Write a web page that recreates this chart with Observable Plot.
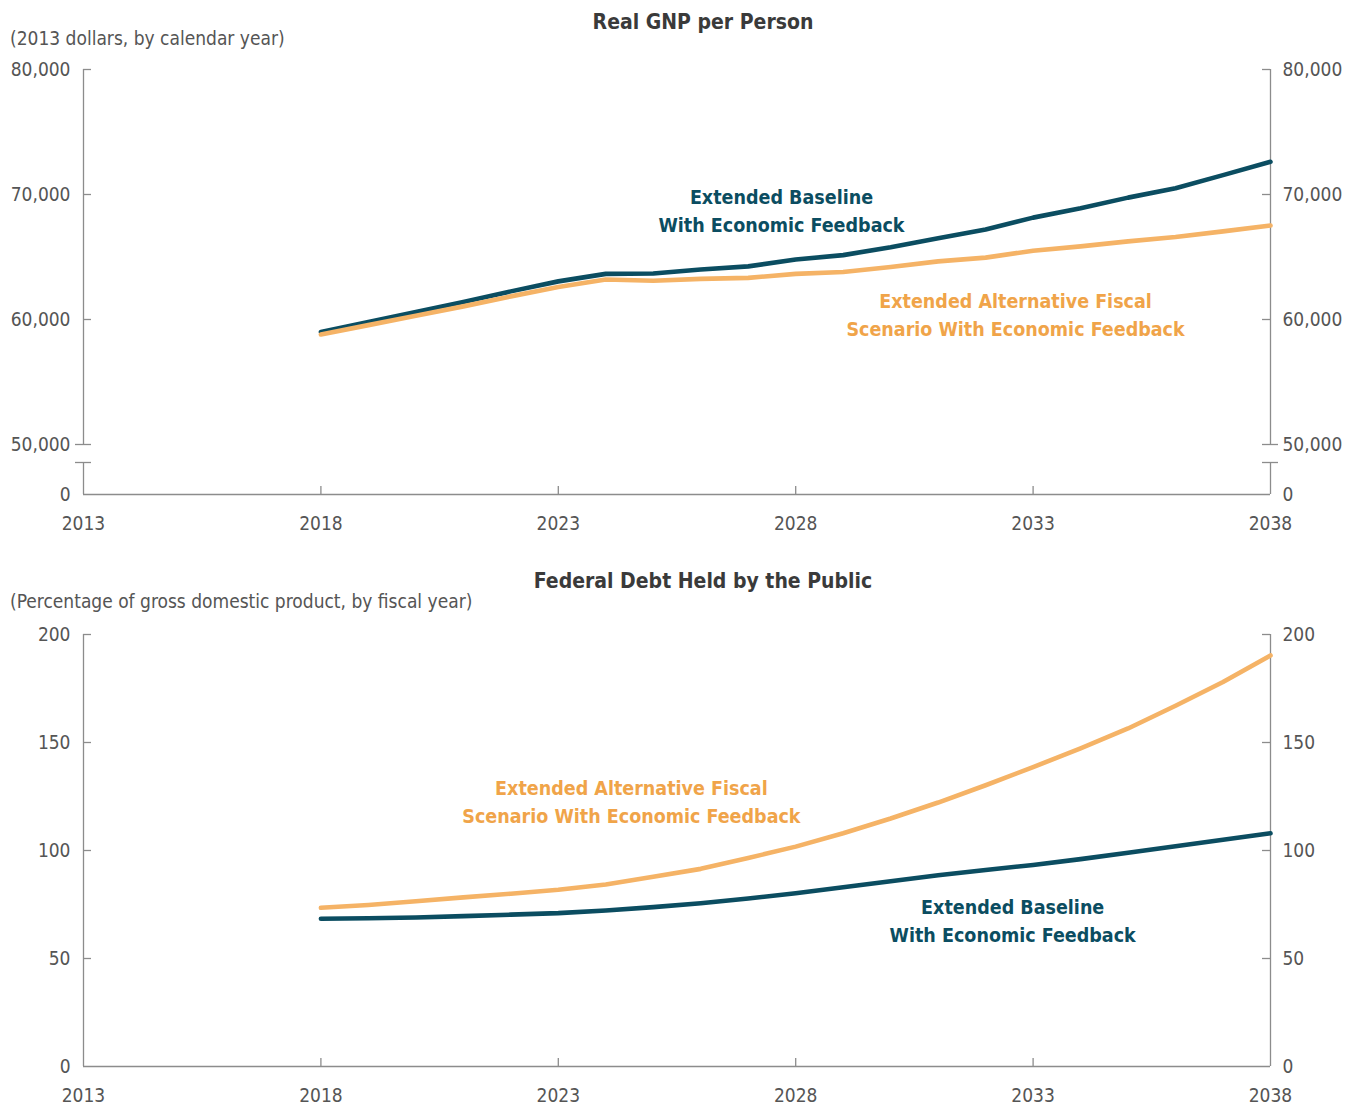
<!DOCTYPE html>
<html><head><meta charset="utf-8">
<script src="https://cdn.jsdelivr.net/npm/d3@7"></script>
<script src="https://cdn.jsdelivr.net/npm/@observablehq/plot@0.6"></script>
<style>
body{margin:0;background:#fff;}
#wrap{position:relative;width:1353px;height:1106px;font-family:"DejaVu Sans Condensed","Liberation Sans Narrow",sans-serif;color:#555;}
.title{position:absolute;left:0;width:1406px;text-align:center;font-weight:bold;font-size:21px;color:#3a3a3a;line-height:1;}
.sub{position:absolute;left:10px;font-size:19px;color:#555;line-height:1;white-space:nowrap;}
.chart{position:absolute;left:0;}
svg{overflow:visible;}
</style></head>
<body><div id="wrap">
<div class="title" style="top:12px">Real GNP per Person</div>
<div class="sub" style="top:29px">(2013 dollars, by calendar year)</div>
<div class="chart" id="c1" style="top:0px"></div>
<div class="title" style="top:571px">Federal Debt Held by the Public</div>
<div class="sub" style="top:592px">(Percentage of gross domestic product, by fiscal year)</div>
<div class="chart" id="c2" style="top:560px"></div>
</div>
<script>
// ---- data ----
const years = [2018,2019,2020,2021,2022,2023,2024,2025,2026,2027,2028,2029,2030,2031,2032,2033,2034,2035,2036,2037,2038];
const gnpBaseline = [59000,59800,60600,61400,62250,63050,63650,63680,64000,64250,64800,65150,65780,66500,67200,68150,68900,69750,70500,71550,72620];
const gnpAltFiscal = [58800,59550,60300,61050,61850,62600,63200,63100,63250,63330,63650,63800,64200,64650,64950,65500,65850,66250,66600,67050,67520];
const debtBaseline = [68.4,68.6,69.0,69.6,70.3,71.0,72.2,73.8,75.6,77.8,80.2,83.0,85.8,88.5,91.0,93.3,96.0,99.0,102.0,105.0,108.0];
const debtAltFiscal = [73.5,74.8,76.5,78.3,80.0,81.8,84.3,87.8,91.5,96.5,101.8,108.0,114.8,122.2,130.2,138.6,147.3,156.5,167.0,178.0,190.3];
const xTicks = [2013,2018,2023,2028,2033,2038];
const gnpTicks = [50000,60000,70000,80000];
const gnpBreak = 48560;   // lower end of the axis break
const gnpFloor = 46000;   // position of the broken-axis "0"
const debtTicks = [0,50,100,150,200];
const seriesNames = ["Extended Baseline\nWith Economic Feedback","Extended Alternative Fiscal\nScenario With Economic Feedback"];

// ---- style ----
const W = 1353, mL = 83, mR = 83;
const BLUE = "#0b4d61", ORANGE = "#f5b366", ORANGE_TXT = "#f0a449", GREY = "#8c8c8c", TXT = "#555";
const FONT = '"DejaVu Sans Condensed","Liberation Sans Narrow",sans-serif';
const TICK_FS = 19, LABEL_FS = 19.5;
const xMin = xTicks[0], xMax = xTicks[xTicks.length-1];
const pxX = (xMax - xMin) / (W - mL - mR);

function rows(vals, name){ return years.map((y,i)=>({year:y, value:vals[i], series:name})); }

function chart({height, mT, mB, yDomain, yTicks, fmt, floor, brk, series, labels}){
  const pxY = (yDomain[1]-yDomain[0]) / (height - mT - mB);
  const T = 8;
  const inner = xTicks.slice(1,-1);
  const marks = [];
  const top = yDomain[1];
  if (brk != null) {
    marks.push(Plot.ruleX([xMin,xMax], {y1: yTicks[0], y2: top, stroke: GREY, strokeWidth: 1.3}));
    marks.push(Plot.ruleX([xMin,xMax], {y1: floor, y2: brk, stroke: GREY, strokeWidth: 1.3}));
    marks.push(Plot.ruleY([yTicks[0], brk], {x1: xMin - T*pxX, x2: xMin + T*pxX, stroke: GREY, strokeWidth: 1.3}));
    marks.push(Plot.ruleY([yTicks[0], brk], {x1: xMax - T*pxX, x2: xMax + T*pxX, stroke: GREY, strokeWidth: 1.3}));
  } else {
    marks.push(Plot.ruleX([xMin,xMax], {y1: floor, y2: top, stroke: GREY, strokeWidth: 1.3}));
  }
  marks.push(Plot.ruleY([floor], {x1: xMin, x2: xMax, stroke: GREY, strokeWidth: 1.3}));
  const yt = yTicks.filter(v => v !== floor && (brk == null || v !== yTicks[0]));
  marks.push(Plot.ruleY(yt, {x1: xMin, x2: xMin + T*pxX, stroke: GREY, strokeWidth: 1.3}));
  marks.push(Plot.ruleY(yt, {x1: xMax - T*pxX, x2: xMax, stroke: GREY, strokeWidth: 1.3}));
  marks.push(Plot.ruleX(inner, {y1: floor, y2: floor + T*pxY, stroke: GREY, strokeWidth: 1.3}));
  const lab = brk != null ? [...yTicks, floor] : yTicks;
  const f = v => v === floor ? "0" : fmt(v);
  marks.push(Plot.text(lab, {x: xMin, y: d=>d, text: f, textAnchor: "end", dx: -13, fill: TXT, fontSize: TICK_FS}));
  marks.push(Plot.text(lab, {x: xMax, y: d=>d, text: f, textAnchor: "start", dx: 12, fill: TXT, fontSize: TICK_FS}));
  marks.push(Plot.text(xTicks, {x: d=>d, y: floor, text: d=>String(d), dy: 29, fill: TXT, fontSize: TICK_FS}));
  marks.push(Plot.line(series, {x: "year", y: "value", z: "series", stroke: "series", strokeWidth: 4.6, strokeLinejoin: "round", strokeLinecap: "round"}));
  for (const l of labels) marks.push(Plot.text([l.text], {x: l.x, y: l.y, text: d=>d, fill: l.color, fontSize: LABEL_FS, fontWeight: "bold", lineHeight: 1.42, lineAnchor: "middle", dy: -2.5}));
  return Plot.plot({
    width: W, height, marginLeft: mL, marginRight: mR, marginTop: mT, marginBottom: mB,
    style: {fontFamily: FONT, background: "transparent", overflow: "visible"},
    x: {domain: [xMin, xMax], axis: null},
    y: {domain: yDomain, axis: null},
    color: {domain: seriesNames, range: [BLUE, ORANGE]},
    marks
  });
}

const c1 = chart({
  height: 545, mT: 69, mB: 51,
  yDomain: [gnpFloor, gnpTicks[gnpTicks.length-1]],
  yTicks: gnpTicks, fmt: d3.format(","), floor: gnpFloor, brk: gnpBreak,
  series: [...rows(gnpBaseline, seriesNames[0]), ...rows(gnpAltFiscal, seriesNames[1])],
  labels: [
    {text: seriesNames[0], x: 2027.7, y: 68640, color: BLUE},
    {text: seriesNames[1], x: 2032.63, y: 60320, color: ORANGE_TXT}
  ]
});
document.getElementById("c1").append(c1);

const c2 = chart({
  height: 546, mT: 74, mB: 40,
  yDomain: [debtTicks[0], debtTicks[debtTicks.length-1]],
  yTicks: debtTicks, fmt: d => String(d), floor: debtTicks[0], brk: null,
  series: [...rows(debtBaseline, seriesNames[0]), ...rows(debtAltFiscal, seriesNames[1])],
  labels: [
    {text: seriesNames[1], x: 2024.54, y: 122.2, color: ORANGE_TXT},
    {text: seriesNames[0], x: 2032.57, y: 67.1, color: BLUE}
  ]
});
document.getElementById("c2").append(c2);
</script>
</body></html>
